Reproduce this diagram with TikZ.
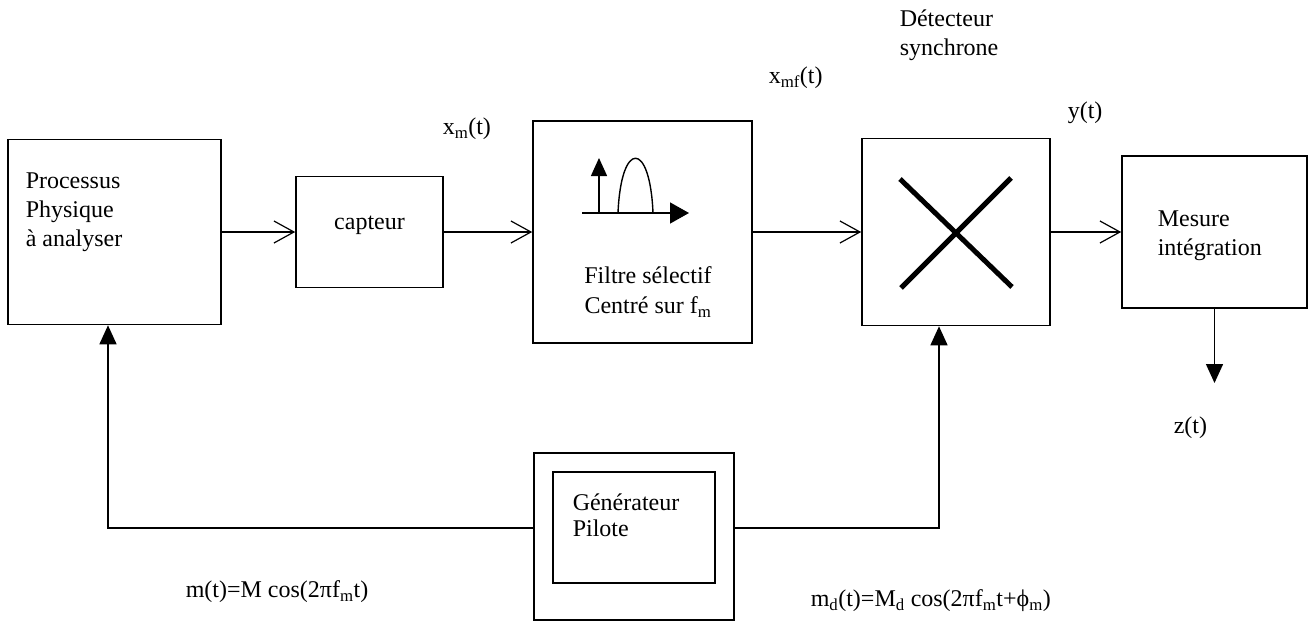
\documentclass[tikz,border=0pt]{standalone}
\usepackage{fontspec}
\setmainfont{Liberation Serif}
\usetikzlibrary{arrows.meta}
\begin{document}
\begin{tikzpicture}[x=1pt,y=-1pt,line width=1.5pt,
  txt/.style={font=\fontsize{24}{29}\selectfont, inner sep=0pt},
  blk/.style={draw, line width=1.6pt, inner sep=0pt},
  feed/.style={-{Straight Barb[length=20pt,width=22pt,line width=1.2pt]}},
  pilot/.style={-{Triangle[length=19pt,width=17pt]}}]
\useasboundingbox[fill=white] (0,0) rectangle (1309,621);

% --- blocks of the chain ---
\node[blk, minimum width=213pt, minimum height=185pt] (proc) at (114.5,232) {};
\node[blk, minimum width=147pt, minimum height=111pt] (capt) at (369.5,232) {};
\node[blk, minimum width=219pt, minimum height=222pt] (filt) at (642.5,232) {};
\node[blk, minimum width=188pt, minimum height=187pt] (mult) at (956,232) {};
\node[blk, minimum width=185pt, minimum height=152pt] (mes)  at (1214.5,232) {};
% pilot generator: double frame
\node[blk, minimum width=200pt, minimum height=167pt] (gen)  at (634,536.5) {};
\node[blk, minimum width=162pt, minimum height=111pt] (geni) at (634,527.5) {};

% --- texts in the blocks ---
\node[txt, anchor=west, align=left] (tproc) at (25,212) {Processus\\Physique\\à analyser};
\node[txt] (tcapt) at (369.5,225) {capteur};
\node[txt, align=center, font=\fontsize{24}{30}\selectfont] (tfilt) at (648,292) {Filtre sélectif\\Centré sur f\textsubscript{m}};
\node[txt, anchor=west, align=left] (tmes) at (1157,235.5) {Mesure\\intégration};
\node[txt, anchor=west, align=left, font=\fontsize{24}{26}\selectfont] (tgen) at (572,515) {Générateur\\Pilote};

% --- multiplier cross ---
\draw[line width=5pt] (900,179) -- (1012,287) (1011,178) -- (901,288);

% --- filter sketch: spectral line and band ---
\coordinate (ax0) at (582,213);
\coordinate (ax1) at (689,213);
\coordinate (ln0) at (599,213);
\coordinate (ln1) at (599,158);
\draw[line width=1.4pt, -{Triangle[length=19pt,width=21pt]}] (ax0) -- (ax1);
\draw[line width=1.4pt, -{Triangle[length=18pt,width=16pt]}] (ln0) -- (ln1);
\draw[line width=1.4pt] (618,213) .. controls (621,140) and (650,140) .. (653,213);

% --- signal chain connectors ---
\draw[feed] (proc) -- (capt);
\draw[feed] (capt) -- (filt);
\draw[feed] (filt) -- (mult);
\draw[feed] (mult) -- (mes);
\coordinate (zout) at (1214.5,383);
\draw[pilot] (mes.south) -- (zout);

% --- pilot feedback connectors ---
\draw[pilot] ([yshift=8.5pt]gen.west) -| ([xshift=-6.5pt]proc.south);
\draw[pilot] ([yshift=8.5pt]gen.east) -| ([xshift=-17pt]mult.south);

% --- signal labels ---
\node[txt, anchor=west] (lxm)  at (442,129) {x\textsubscript{m}(t)};
\node[txt, anchor=west] (lxmf) at (768,78) {x\textsubscript{mf}(t)};
\node[txt, anchor=west, align=left] (ldet) at (899,35.5) {Détecteur\\synchrone};
\node[txt, anchor=west] (ly) at (1067,113) {y(t)};
\node[txt, anchor=west] (lz) at (1173,428) {z(t)};
\node[txt, anchor=west] (lm) at (185,592) {m(t)=M cos(2πf\textsubscript{m}t)};
\node[txt, anchor=west] (lmd) at (810,601) {m\textsubscript{d}(t)=M\textsubscript{d} cos(2πf\textsubscript{m}t+ϕ\textsubscript{m})};
\end{tikzpicture}
\end{document}
